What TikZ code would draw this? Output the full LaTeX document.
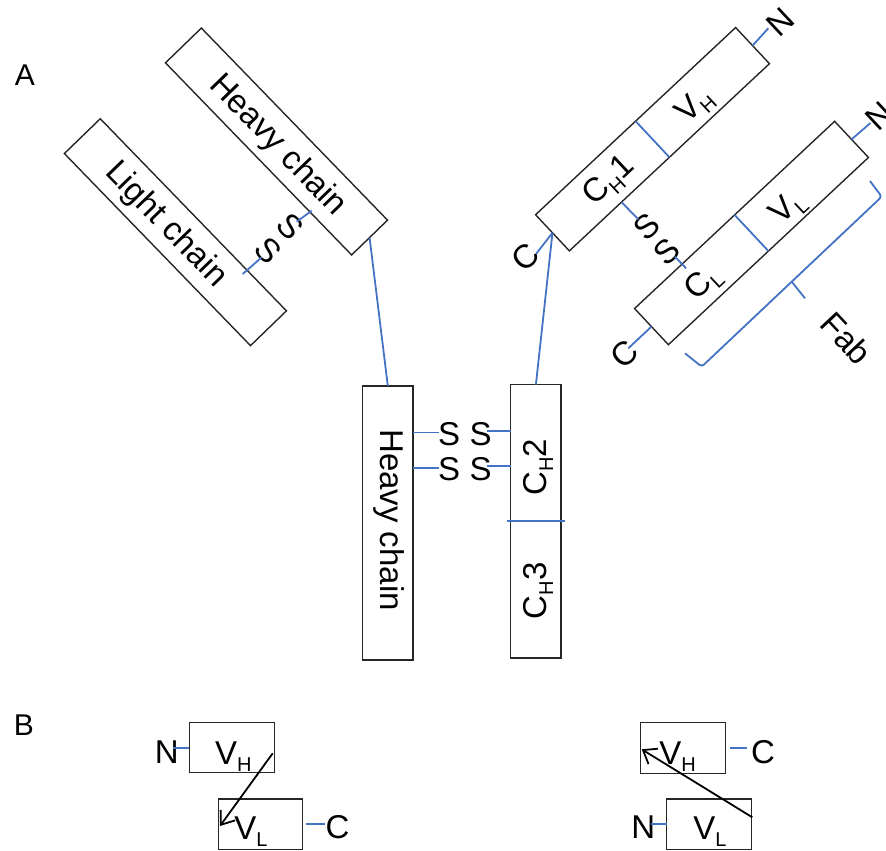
\documentclass[tikz,border=0pt]{standalone}
\usepackage{fontspec}
\setmainfont{Liberation Sans}
\usetikzlibrary{arrows.meta,calc}
\definecolor{bl}{RGB}{68,114,196}
\newcommand\sbs[1]{\raisebox{-7pt}{\fontsize{20}{20}\selectfont #1}}
\begin{document}
\begin{tikzpicture}[x=1pt,y=-1pt,
  box/.style={draw=black!85, line width=1.4pt, inner sep=0pt, outer sep=0pt},
  bond/.style={draw=bl, line width=1.8pt},
  txt/.style={inner sep=0pt, font=\fontsize{33}{40}\selectfont},
  lab/.style={inner sep=0pt, font=\fontsize{30}{36}\selectfont},
  arr/.style={draw=black, line width=1.8pt, -{Straight Barb[length=12pt,width=18pt]}}]
\useasboundingbox (0,0) rectangle (886,851);

% labels
\node[lab] (A) at (25,75) {A};
\node[lab] (B) at (24,725) {B};

% ---------- upper left arm ----------
\node[box, minimum width=267.5pt, minimum height=50pt, rotate=-45.9] (lhc) at (276.5,141.5) {};
\node[txt, rotate=-45.9] (lhct) at (277.5,145.8) {Heavy chain};
\node[box, minimum width=267.5pt, minimum height=50pt, rotate=-45.9] (llc) at (175.4,232.2) {};
\node[txt, rotate=-45.9] (llct) at (165.7,225) {Light chain};
\coordinate (b3a) at (311.7,210.7); \coordinate (b3b) at (296.7,221.7);
\node[txt, rotate=-45.9] (s3) at (290,226.7) {S};
\node[txt, rotate=-45.9] (s4) at (268.3,250) {S};
\coordinate (b4a) at (261.7,257.3); \coordinate (b4b) at (242.7,274);
\draw[bond] (b3a) -- (b3b);
\draw[bond] (b4a) -- (b4b);

% ---------- upper right arm ----------
\node[box, minimum width=274pt, minimum height=49.5pt, rotate=43.1] (rh) at (652.5,139.2) {};
\node[box, minimum width=274pt, minimum height=49.5pt, rotate=43.1] (rl) at (751.5,233) {};
\draw[bond] (rh.north) -- (rh.south);
\draw[bond] (rl.north) -- (rl.south);
\node[txt, rotate=43.1] (vht) at (695,106) {V\sbs{H}};
\node[txt, rotate=43.1] (ch1t) at (610,181.7) {C\sbs{H}1};
\node[txt, rotate=43.1] (vlt) at (788.3,208.3) {V\sbs{L}};
\node[txt, rotate=43.1] (clt) at (703.3,283.3) {C\sbs{L}};

\node[txt, rotate=43.1] (nh) at (780.5,22.3) {N};
\coordinate (nhe) at (768.3,28.3);
\draw[bond] (rh.east) -- (nhe);
\node[txt, rotate=43.1] (nl) at (879.3,116.3) {N};
\coordinate (nle) at (870.5,123);
\draw[bond] (rl.east) -- (nle);
\node[txt, rotate=43.1] (ch) at (525.8,256.7) {C};
\coordinate (che) at (536,254);
\draw[bond] (rh.west) -- (che);
\node[txt, rotate=43.1] (cl) at (624.2,354.2) {C};
\coordinate (cle) at (628.3,348.3);
\draw[bond] (rl.west) -- (cle);

\coordinate (b1a) at (621.6,202.2); \coordinate (b1b) at (638.3,219.3);
\node[txt, rotate=43.1] (s1) at (646.7,226.7) {S};
\node[txt, rotate=43.1] (s2) at (666.7,251.7) {S};
\coordinate (b2a) at (675,256.7); \coordinate (b2b) at (686,268.3);
\draw[bond] (b1a) -- (b1b);
\draw[bond] (b2a) -- (b2b);

% Fab brace
\coordinate (e1) at (870,181);
\coordinate (k1) at (881.7,196.7);
\coordinate (jj) at (791.7,281.7);
\coordinate (tt) at (805,298.3);
\coordinate (k2) at (701.7,366.7);
\coordinate (e2) at (685,353.3);
\draw[bond, rounded corners=3pt] (e1) -- (k1) -- (jj) -- (k2) -- (e2);
\draw[bond] (jj) -- (tt);
\node[txt, rotate=-46.9] (fab) at (846.7,338.3) {Fab};

% ---------- stem ----------
\node[box, minimum width=50.3pt, minimum height=274pt] (bh) at (387.8,522.8) {};
\node[txt, rotate=-90] (bht) at (388.8,520) {Heavy chain};
\node[box, minimum width=50.3pt, minimum height=273.3pt] (bc) at (535.9,521.3) {};
\draw[bond] ($(bc.west)+(-4,0)$) -- ($(bc.east)+(4,0)$);
\node[txt, rotate=90] (ch2) at (538,467.5) {C\sbs{H}2};
\node[txt, rotate=90] (ch3) at (538,590.8) {C\sbs{H}3};

\draw[bond] (lhc.east) -- (bh.north);
\draw[bond] (rh.west) -- (bc.north);

\coordinate (l1) at (439,432.5);
\coordinate (l2) at (439,467.7);
\coordinate (r1) at (487,431.3);
\coordinate (r2) at (487,466);
\draw[bond] (bh.east |- l1) -- (l1);
\draw[bond] (bh.east |- l2) -- (l2);
\draw[bond] (r1) -- (bc.west |- r1);
\draw[bond] (r2) -- (bc.west |- r2);
\node[txt] (s5) at (449,434) {S};
\node[txt] (s6) at (480.7,434) {S};
\node[txt] (s7) at (449,469) {S};
\node[txt] (s8) at (480.7,469) {S};

% ---------- part B left ----------
\node[box, minimum width=85pt, minimum height=50pt] (vh1) at (231.8,747.7) {};
\node[txt] (vh1t) at (233.3,756.5) {V\sbs{H}};
\node[box, minimum width=84.4pt, minimum height=50.3pt] (vl1) at (260.5,824.2) {};
\node[txt] (vl1t) at (251,831.5) {V\sbs{L}};
\node[txt] (n1) at (166.7,752.5) {N};
\coordinate (n1e) at (173,748.3);
\draw[bond] (n1e) -- (vh1.west |- n1e);
\node[txt] (c1) at (337.5,827.5) {C};
\coordinate (c1e) at (325,824.3);
\draw[bond] (vl1.east |- c1e) ++(3,0) -- (c1e);
\draw[arr] ($(vh1.east)+(-1.6,5.6)$) -- ($(vl1.west)+(1.7,1.8)$);

% ---------- part B right ----------
\node[box, minimum width=85pt, minimum height=50.6pt] (vh2) at (683.2,748) {};
\node[txt] (vh2t) at (677.5,756.5) {V\sbs{H}};
\node[box, minimum width=85pt, minimum height=50.3pt] (vl2) at (709.2,824.2) {};
\node[txt] (vl2t) at (710,831.5) {V\sbs{L}};
\node[txt] (c2) at (763,752.5) {C};
\coordinate (c2e) at (747.3,748.3);
\draw[bond] (vh2.east |- c2e) ++(4,0) -- (c2e);
\node[txt] (n2) at (643.3,827.5) {N};
\coordinate (n2e) at (650.7,824.3);
\draw[bond] (n2e) -- (vl2.west |- n2e);
\draw[arr] ($(vl2.east)+(0.6,-6.9)$) -- ($(vh2.west)+(1,1.3)$);
\end{tikzpicture}
\end{document}
